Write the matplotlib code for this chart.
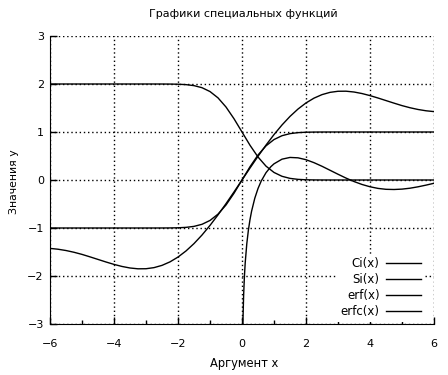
import matplotlib
matplotlib.use("Agg")
from matplotlib import pyplot as plt

# values, step 0.25 on [-6, 6]
x_vals = [-6.0 + 0.25 * i for i in range(49)]

si_pos = [0.0, 0.2491, 0.4931, 0.7270, 0.9461, 1.1464, 1.3247, 1.4782, 1.6054,
          1.7055, 1.7786, 1.8256, 1.8486, 1.8501, 1.8331, 1.8012, 1.7582, 1.7082,
          1.6547, 1.6013, 1.5499, 1.5056, 1.4692, 1.4422, 1.4247]
si_vals = [-v for v in si_pos[:0:-1]] + si_pos

erf_pos = [0.0, 0.2763, 0.5205, 0.7112, 0.8427, 0.9229, 0.9661, 0.9867, 0.9953,
           0.9985, 0.9996, 0.9999, 1.0, 1.0, 1.0, 1.0, 1.0, 1.0, 1.0, 1.0, 1.0,
           1.0, 1.0, 1.0, 1.0]
erf_vals = [-v for v in erf_pos[:0:-1]] + erf_pos
erfc_vals = [1.0 - v for v in erf_vals]

ci_x = [0.02, 0.03, 0.05, 0.075, 0.1, 0.15, 0.2, 0.25, 0.3, 0.4, 0.5, 0.6, 0.75,
        0.9, 1.0, 1.25, 1.5, 1.75, 2.0, 2.25, 2.5, 2.75, 3.0, 3.25, 3.5, 3.75,
        4.0, 4.25, 4.5, 4.75, 5.0, 5.25, 5.5, 5.75, 6.0]
ci_vals = [-3.335, -2.929, -2.418, -2.013, -1.728, -1.326, -1.042, -0.825, -0.649,
           -0.379, -0.178, -0.022, 0.152, 0.276, 0.337, 0.434, 0.470, 0.462, 0.423,
           0.361, 0.286, 0.203, 0.120, 0.040, -0.032, -0.093, -0.141, -0.175,
           -0.194, -0.198, -0.190, -0.171, -0.142, -0.107, -0.068]

plt.rcParams['font.family'] = ['DejaVu Sans']
fig = plt.figure(figsize=(4.48, 3.75), dpi=100)
ax = fig.add_axes([50 / 448, 1 - 324 / 375, 384 / 448, 288 / 375])

ax.plot(ci_x, ci_vals, color='black', lw=1, label='Ci(x)')
ax.plot(x_vals, si_vals, color='black', lw=1, label='Si(x)')
ax.plot(x_vals, erf_vals, color='black', lw=1, label='erf(x)')
ax.plot(x_vals, erfc_vals, color='black', lw=1, label='erfc(x)')

ax.set_xlim(-6, 6)
ax.set_ylim(-3, 3)
ax.set_xticks(range(-6, 7, 2))
ax.set_xticks(range(-5, 6, 2), minor=True)
ax.set_yticks(range(-3, 4))
ax.tick_params(direction='in', length=5, width=1, labelsize=8)
ax.tick_params(axis='x', pad=11)
ax.tick_params(axis='y', pad=4.5)
ax.tick_params(which='minor', direction='in', length=3, width=1)
ax.grid(True, color='black', lw=1, linestyle=(0, (1, 2)))
ax.set_axisbelow(True)
for side in ['top', 'right']:
    ax.spines[side].set_visible(False)

leg = ax.legend(loc='lower right', bbox_to_anchor=(0.992, -0.012), frameon=True,
                fontsize=8.5, markerfirst=False, handlelength=3.0,
                handletextpad=0.55, labelspacing=0.25, borderpad=0.3,
                fancybox=False)
leg.get_frame().set_edgecolor('none')
leg.get_frame().set_facecolor('white')
leg.get_frame().set_alpha(1)
for t in leg.get_texts():
    t.set_ha('right')

fig.text(243 / 448, 1 - 14 / 375, 'Графики специальных функций',
         ha='center', va='center', fontsize=8)
fig.text(244 / 448, 1 - 363 / 375, 'Аргумент x', ha='center', va='center',
         fontsize=8.3)
fig.text(14 / 448, 1 - 182 / 375, 'Значения y', ha='center', va='center',
         rotation=90, fontsize=7.8)

fig.savefig('out.png', dpi=100)
